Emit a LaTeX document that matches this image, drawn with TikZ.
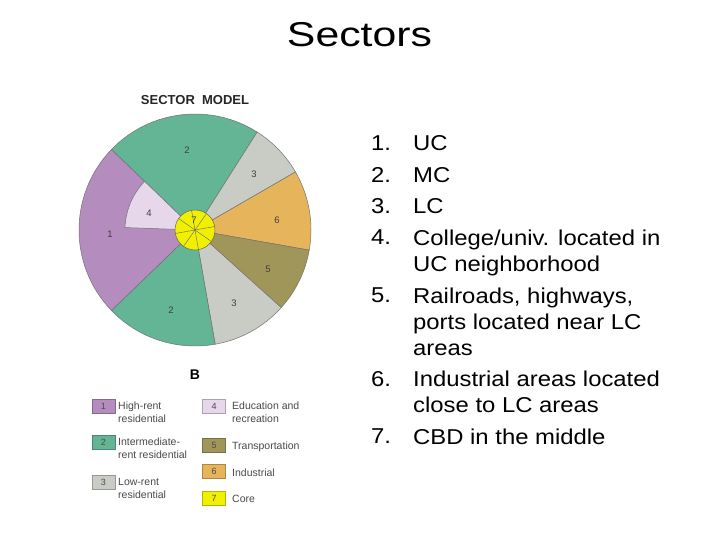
\documentclass[tikz,border=0pt]{standalone}
\usepackage{fontspec}
\setmainfont{Liberation Sans}
\newfontfamily\titlefont[FakeStretch=1.24]{Liberation Sans}
\newfontfamily\listfont[FakeStretch=1.11]{Liberation Sans}
\usepackage{xcolor}

\definecolor{highrent}{HTML}{B48CBE}
\definecolor{midrent}{HTML}{64B496}
\definecolor{lowrent}{HTML}{C8CCC4}
\definecolor{educ}{HTML}{E6D7EB}
\definecolor{transp}{HTML}{A0965A}
\definecolor{indus}{HTML}{E6B45A}
\definecolor{corecol}{HTML}{F0F000}
\definecolor{legendtext}{HTML}{4A4A4A}

\tikzset{
  secnum/.style={inner sep=0pt, text=black!75, font=\fontsize{9.5}{9.5}\selectfont},
  swatch/.style={draw=#1!75!black, fill=#1, minimum width=23pt, minimum height=14pt,
    inner sep=0pt, text=black!70, font=\fontsize{9}{9}\selectfont},
  legtext/.style={anchor=north west, inner sep=0pt, align=left, text=legendtext,
    font=\fontsize{10.5}{12.8}\selectfont},
  listnum/.style={anchor=north west, inner sep=0pt, font=\listfont\fontsize{21.5}{26}\selectfont},
  listitem/.style={anchor=north west, inner sep=0pt, align=left,
    font=\listfont\fontsize{21.5}{26}\selectfont}
}

\begin{document}
\begin{tikzpicture}[x=1pt,y=-1pt]
\useasboundingbox[fill=white] (0,0) rectangle (720,540);

% Title
\node[anchor=base, font=\titlefont\fontsize{34.5}{40}\selectfont] (title) at (359.5,47) {Sectors};
\node[inner sep=0pt, text=black!85, font=\bfseries\fontsize{13}{13}\selectfont] (model) at (195,100) {SECTOR\ \ MODEL};

% Wheel of sectors
\begin{scope}[shift={(195,230)}, yscale=-1]
\foreach \a/\b/\col in {136/224/highrent, 57.6/136/midrent, 30/57.6/lowrent, -10/30/indus,
                        -42/-10/transp, -80/-42/lowrent, -136/-80/midrent}
  \filldraw[fill=\col, draw=black!55, line width=0.5pt]
    (0,0) -- (\a:116) arc[start angle=\a, end angle=\b, radius=116] -- cycle;

% Education wedge inside sector 1
\filldraw[fill=educ, draw=black!55, line width=0.5pt]
  (0,0) -- (136:70) arc[start angle=136, end angle=178, radius=70] -- cycle;

% Core with spokes
\filldraw[fill=corecol, draw=black!60, line width=0.5pt] (0,0) circle[radius=20];
\foreach \a in {10,55,...,325} \draw[black!60, line width=0.4pt] (0,0) -- (\a:20);
\end{scope}

% Sector numbers
\node[secnum] (s2a) at (187,150) {2};
\node[secnum] (s3a) at (254,174) {3};
\node[secnum] (s4) at (149,213) {4};
\node[secnum] (s7) at (194,220) {7};
\node[secnum] (s1) at (110,234) {1};
\node[secnum] (s6) at (277,220) {6};
\node[secnum] (s5) at (268,269) {5};
\node[secnum] (s3b) at (234,303) {3};
\node[secnum] (s2b) at (171,310) {2};

% Legend
\node[inner sep=0pt, font=\bfseries\fontsize{14}{14}\selectfont] (bhead) at (195,375) {B};

\node[swatch=highrent] (k1) at (103.5,406) {1};
\node[swatch=midrent] (k2) at (103.5,442.5) {2};
\node[swatch=lowrent] (k3) at (103.5,482.5) {3};
\node[swatch=educ] (k4) at (214,406) {4};
\node[swatch=transp] (k5) at (214,445) {5};
\node[swatch=indus] (k6) at (214,471.5) {6};
\node[swatch=corecol] (k7) at (214,498.5) {7};

\node[legtext] (t1) at (118,401.5) {High-rent\\residential};
\node[legtext] (t2) at (118,438) {Intermediate-\\rent residential};
\node[legtext] (t3) at (118,478) {Low-rent\\residential};
\node[legtext] (t4) at (232,401.5) {Education and\\recreation};
\node[legtext, anchor=base west] (t5) at (232,449) {Transportation};
\node[legtext, anchor=base west] (t6) at (232,476) {Industrial};
\node[legtext, anchor=base west] (t7) at (232,502) {Core};

% Numbered list
\foreach \n/\y in {1/135.3, 2/166.8, 3/198.3, 4/229.8, 5/287.3, 6/370.8, 7/428.3}
  \node[listnum] (num\n) at (371,\y) {\n.};

\node[listitem] (item1) at (413,135.3) {UC};
\node[listitem] (item2) at (413,166.8) {MC};
\node[listitem] (item3) at (413,198.3) {LC};
\node[listitem] (item4) at (413,229.8) {College/univ. located in\\UC neighborhood};
\node[listitem] (item5) at (413,287.3) {Railroads, highways,\\ports located near LC\\areas};
\node[listitem] (item6) at (413,370.8) {Industrial areas located\\close to LC areas};
\node[listitem] (item7) at (413,428.3) {CBD in the middle};
\end{tikzpicture}
\end{document}
